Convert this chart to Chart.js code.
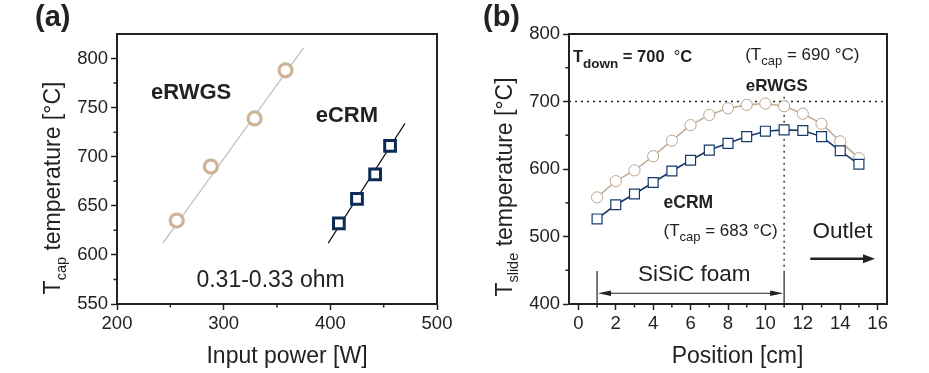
<!DOCTYPE html>
<html><head><meta charset="utf-8">
<script src="https://cdn.jsdelivr.net/npm/chart.js@4.4.1/dist/chart.umd.min.js"></script>
<style>
html,body{margin:0;padding:0;background:#fff;}
#wrap{position:relative;width:929px;height:373px;overflow:hidden;background:#fff;}
canvas{position:absolute;top:0;}
#ca{left:0;} #cb{left:465px;}
</style></head><body>
<div id="wrap"><canvas id="ca" width="465" height="373"></canvas><canvas id="cb" width="464" height="373"></canvas></div>
<script>
// ---------- Panel (a) data ----------
const powerRWGS = [256, 288, 329, 358];
const tcapRWGS  = [635, 690, 739, 788];
const powerCRM  = [408, 425, 442, 456];
const tcapCRM   = [632, 657, 682, 711];
const fitPowerRWGS = [243, 375];
const fitTcapRWGS  = [612, 811];
const fitPowerCRM  = [398, 470];
const fitTcapCRM   = [612, 734];
const xTicksA = [200, 300, 400, 500];
const yTicksA = [550, 600, 650, 700, 750, 800];
const xMinorA = [250, 350, 450];
const yMinorA = [575, 625, 675, 725, 775];

// ---------- Panel (b) data ----------
const positions  = [1, 2, 3, 4, 5, 6, 7, 8, 9, 10, 11, 12, 13, 14, 15];
const tslideRWGS = [558, 582, 598, 619, 642, 665, 680, 690, 695, 697, 693, 682, 667, 641, 616];
const tslideCRM  = [526, 547, 563, 580, 597, 613, 628, 638, 648, 656, 658, 657, 648, 627, 607];
const xTicksB = [0, 2, 4, 6, 8, 10, 12, 14, 16];
const yTicksB = [400, 500, 600, 700, 800];
const xMinorB = [1, 3, 5, 7, 9, 11, 13, 15];
const yMinorB = [450, 550, 650, 750];
const tDown = 700;
const foamStart = 1, foamEnd = 11;

const FF = '"Liberation Sans", Arial, Helvetica, sans-serif';
const INK = '#222';

function pts(xs, ys) { return xs.map((x, i) => ({x: x, y: ys[i]})); }

function axis(min, max, ticks, pos, fit) {
  return {
    type: 'linear', position: pos, min: min, max: max,
    afterBuildTicks: s => { s.ticks = ticks.map(v => ({value: v})); },
    afterFit: s => { if (pos === 'left') s.width = fit; else s.height = fit; },
    grid: { drawOnChartArea: false, drawTicks: true, tickLength: 6, tickColor: INK, tickWidth: 1.5 },
    border: { display: true, color: INK, width: 2 },
    ticks: { color: INK, font: {family: FF, size: 18.5}, padding: 3, autoSkip: false, maxRotation: 0,
             callback: v => String(v) }
  };
}

function drawRich(ctx, x, y, segs, align) {
  let w = 0;
  segs.forEach(s => { ctx.font = s.f; s.w = ctx.measureText(s.t).width; w += s.w; });
  let cx = align === 'center' ? x - w / 2 : (align === 'right' ? x - w : x);
  ctx.textAlign = 'left'; ctx.textBaseline = 'alphabetic';
  segs.forEach(s => { ctx.font = s.f; ctx.fillText(s.t, cx, y + (s.dy || 0)); cx += s.w; });
}

function minorTicks(ctx, chart, xm, ym) {
  const a = chart.chartArea, sx = chart.scales.x, sy = chart.scales.y;
  ctx.save(); ctx.strokeStyle = INK; ctx.lineWidth = 1.5; ctx.beginPath();
  xm.forEach(v => { const p = sx.getPixelForValue(v); ctx.moveTo(p, a.bottom); ctx.lineTo(p, a.bottom + 3.5); });
  ym.forEach(v => { const p = sy.getPixelForValue(v); ctx.moveTo(a.left, p); ctx.lineTo(a.left - 3.5, p); });
  ctx.stroke();
  // box top/right
  ctx.lineWidth = 2; ctx.beginPath();
  ctx.moveTo(a.left, a.top); ctx.lineTo(a.right, a.top); ctx.lineTo(a.right, a.bottom);
  ctx.stroke(); ctx.restore();
}

function arrowHead(ctx, x, y, dir, len, half) {
  ctx.beginPath(); ctx.moveTo(x, y); ctx.lineTo(x - dir * len, y - half); ctx.lineTo(x - dir * len, y + half);
  ctx.closePath(); ctx.fill();
}

const decoA = {
  id: 'decoA',
  afterDraw(chart) {
    const ctx = chart.ctx, a = chart.chartArea, sx = chart.scales.x, sy = chart.scales.y;
    minorTicks(ctx, chart, xMinorA, yMinorA);
    ctx.save(); ctx.fillStyle = INK;
    drawRich(ctx, 35, 26, [{t: '(a)', f: 'bold 29px ' + FF}], 'left');
    drawRich(ctx, sx.getPixelForValue(269.5), sy.getPixelForValue(759), [{t: 'eRWGS', f: 'bold 22px ' + FF}], 'center');
    drawRich(ctx, sx.getPixelForValue(415.5), sy.getPixelForValue(735), [{t: 'eCRM', f: 'bold 22px ' + FF}], 'center');
    drawRich(ctx, sx.getPixelForValue(344), sy.getPixelForValue(567), [{t: '0.31-0.33 ohm', f: '23px ' + FF}], 'center');
    // axis titles
    drawRich(ctx, (a.left + a.right) / 2 + 10, 363, [{t: 'Input power [W]', f: '23px ' + FF}], 'center');
    ctx.translate(60, 188); ctx.rotate(-Math.PI / 2);
    drawRich(ctx, 0, 0, [{t: 'T', f: '23px ' + FF}, {t: 'cap', f: '14.5px ' + FF, dy: 6},
                          {t: ' temperature [\u00B0C]', f: '23px ' + FF}], 'center');
    ctx.restore();
  }
};

const decoB = {
  id: 'decoB',
  beforeDatasetsDraw(chart) {
    const ctx = chart.ctx, a = chart.chartArea, sx = chart.scales.x, sy = chart.scales.y;
    ctx.save(); ctx.strokeStyle = INK;
    // dotted 700 line
    ctx.lineWidth = 1.3; ctx.setLineDash([2, 4]);
    const y7 = sy.getPixelForValue(tDown);
    ctx.beginPath(); ctx.moveTo(a.left, y7); ctx.lineTo(a.right, y7); ctx.stroke();
    const x11 = sx.getPixelForValue(foamEnd), x1 = sx.getPixelForValue(foamStart);
    ctx.beginPath(); ctx.moveTo(x11, sy.getPixelForValue(707)); ctx.lineTo(x11, sy.getPixelForValue(449)); ctx.stroke();
    ctx.setLineDash([]); ctx.lineWidth = 1.2;
    ctx.beginPath();
    ctx.moveTo(x11, sy.getPixelForValue(449)); ctx.lineTo(x11, a.bottom);
    ctx.moveTo(x1, sy.getPixelForValue(449)); ctx.lineTo(x1, a.bottom);
    ctx.stroke();
    // SiSiC double arrow
    const ya = sy.getPixelForValue(416);
    ctx.lineWidth = 1.1; ctx.beginPath(); ctx.moveTo(x1 + 8, ya); ctx.lineTo(x11 - 8, ya); ctx.stroke();
    ctx.fillStyle = INK;
    arrowHead(ctx, x1 + 1, ya, -1, 13, 2.8);
    arrowHead(ctx, x11 - 1, ya, 1, 13, 2.8);
    // Outlet arrow
    const yo = sy.getPixelForValue(467);
    const xo1 = sx.getPixelForValue(12.4), xo2 = sx.getPixelForValue(15.86);
    ctx.lineWidth = 2.6; ctx.beginPath(); ctx.moveTo(xo1, yo); ctx.lineTo(xo2 - 8, yo); ctx.stroke();
    arrowHead(ctx, xo2, yo, 1, 12, 4.5);
    ctx.restore();
  },
  afterDraw(chart) {
    const ctx = chart.ctx, a = chart.chartArea, sx = chart.scales.x, sy = chart.scales.y;
    minorTicks(ctx, chart, xMinorB, yMinorB);
    ctx.save(); ctx.fillStyle = INK;
    drawRich(ctx, 18, 26, [{t: '(b)', f: 'bold 29px ' + FF}], 'left');
    drawRich(ctx, sx.getPixelForValue(-0.29), sy.getPixelForValue(759), [
      {t: 'T', f: 'bold 16.5px ' + FF}, {t: 'down', f: 'bold 13.5px ' + FF, dy: 6.5},
      {t: ' = 700  ', f: 'bold 16.5px ' + FF}, {t: '\u00B0', f: '16.5px ' + FF}, {t: 'C', f: 'bold 16.5px ' + FF}], 'left');
    drawRich(ctx, sx.getPixelForValue(8.92), sy.getPixelForValue(761.5), [
      {t: '(T', f: '17px ' + FF}, {t: 'cap', f: '13px ' + FF, dy: 5},
      {t: ' = 690 \u00B0C)', f: '17px ' + FF}], 'left');
    drawRich(ctx, sx.getPixelForValue(10.61), sy.getPixelForValue(715.6), [{t: 'eRWGS', f: 'bold 17px ' + FF}], 'center');
    drawRich(ctx, sx.getPixelForValue(5.88), sy.getPixelForValue(541.8), [{t: 'eCRM', f: 'bold 17.5px ' + FF}], 'center');
    drawRich(ctx, sx.getPixelForValue(4.55), sy.getPixelForValue(500.7), [
      {t: '(T', f: '17px ' + FF}, {t: 'cap', f: '13px ' + FF, dy: 5},
      {t: ' = 683 \u00B0C)', f: '17px ' + FF}], 'left');
    drawRich(ctx, sx.getPixelForValue(14.12), sy.getPixelForValue(497.3), [{t: 'Outlet', f: '22.5px ' + FF}], 'center');
    drawRich(ctx, sx.getPixelForValue(6.2), sy.getPixelForValue(434.5), [{t: 'SiSiC foam', f: '22.5px ' + FF}], 'center');
    drawRich(ctx, (a.left + a.right) / 2 + 9.5, 363, [{t: 'Position [cm]', f: '23px ' + FF}], 'center');
    ctx.translate(46.7, 187); ctx.rotate(-Math.PI / 2);
    drawRich(ctx, 0, 0, [{t: 'T', f: '23px ' + FF}, {t: 'slide', f: '14.5px ' + FF, dy: 6},
                          {t: ' temperature [\u00B0C]', f: '23px ' + FF}], 'center');
    ctx.restore();
  }
};

const common = {
  responsive: false, animation: false, devicePixelRatio: 1,
  plugins: { legend: {display: false}, tooltip: {enabled: false}, title: {display: false} }
};

new Chart(document.getElementById('ca'), {
  type: 'scatter',
  data: { datasets: [
    { data: pts(powerCRM, tcapCRM), showLine: false, pointStyle: 'rect', pointRadius: 7.6,
      borderColor: '#0c2b57', backgroundColor: '#fff', borderWidth: 3 },
    { data: pts(powerRWGS, tcapRWGS), showLine: false, pointStyle: 'circle', pointRadius: 6.5,
      borderColor: '#cdb398', backgroundColor: '#fff', borderWidth: 3.2 },
    { data: pts(fitPowerCRM, fitTcapCRM), showLine: true, pointRadius: 0, borderColor: '#111', borderWidth: 1.2 },
    { data: pts(fitPowerRWGS, fitTcapRWGS), showLine: true, pointRadius: 0, borderColor: '#c4c4c4', borderWidth: 1.3 }
  ]},
  options: Object.assign({}, common, {
    layout: { padding: {left: 0, right: 28, top: 34, bottom: 0} },
    scales: { x: axis(200, 500, xTicksA, 'bottom', 69), y: axis(550, 825, yTicksA, 'left', 117) }
  }),
  plugins: [decoA]
});

new Chart(document.getElementById('cb'), {
  type: 'scatter',
  data: { datasets: [
    { data: pts(positions, tslideCRM), showLine: true, pointStyle: 'rect', pointRadius: 7,
      borderColor: '#16386a', pointBorderColor: '#16386a', backgroundColor: '#fff', pointBackgroundColor: '#fff',
      borderWidth: 1.6, pointBorderWidth: 1.2 },
    { data: pts(positions, tslideRWGS), showLine: true, pointStyle: 'circle', pointRadius: 5.6,
      borderColor: '#c3ad96', pointBorderColor: '#b9a48e', backgroundColor: '#fff', pointBackgroundColor: '#fff',
      borderWidth: 1.6, pointBorderWidth: 1 }
  ]},
  options: Object.assign({}, common, {
    layout: { padding: {left: 0, right: 42, top: 34, bottom: 0} },
    scales: { x: axis(-0.5, 16.5, xTicksB, 'bottom', 69), y: axis(400, 800, yTicksB, 'left', 104) }
  }),
  plugins: [decoB]
});
</script>
</body></html>
